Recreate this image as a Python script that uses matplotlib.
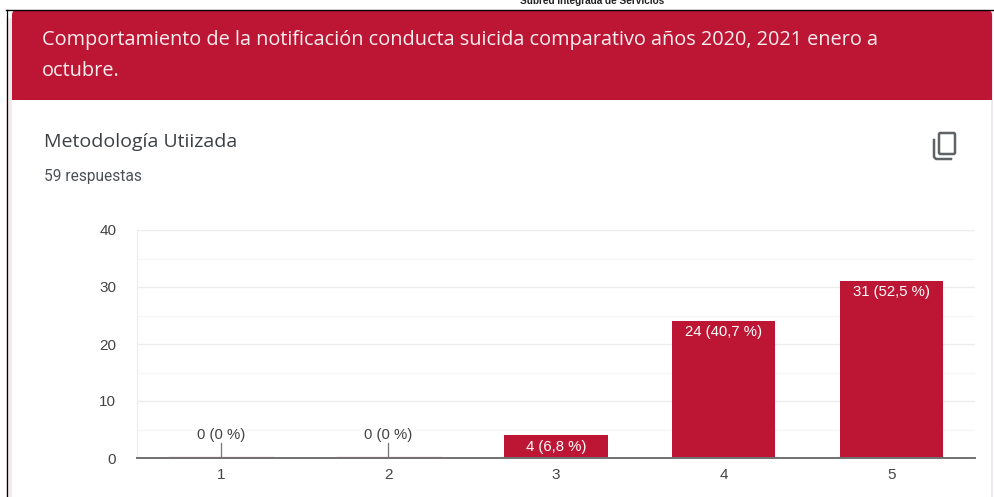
#!/usr/bin/env python3
import matplotlib
matplotlib.use('Agg')
import matplotlib.pyplot as plt
from matplotlib.patches import Rectangle, FancyBboxPatch

# datos
categorias = ['1', '2', '3', '4', '5']
valores = [0, 0, 4, 24, 31]
etiquetas = ['0 (0 %)', '0 (0 %)', '4 (6,8 %)', '24 (40,7 %)', '31 (52,5 %)']
ticks_y = [0, 10, 20, 30, 40]
ticks_menores = [5, 15, 25, 35]

titulo = ['Comportamiento de la notificación conducta suicida comparativo años 2020, 2021 enero a',
          'octubre.']
pregunta = 'Metodología Utiizada'
respuestas = '59 respuestas'
encabezado = 'Subred Integrada de Servicios'

ROJO = '#bd1634'
W, H = 994, 497

fig = plt.figure(figsize=(W / 100, H / 100), dpi=100)
fig.patch.set_facecolor('white')

# capa de fondo en pixeles (y hacia abajo)
bg = fig.add_axes([0, 0, 1, 1])
bg.set_xlim(0, W)
bg.set_ylim(H, 0)
bg.axis('off')

bg.add_patch(Rectangle((6, 10), 987, 487, fc='#f3e9ec', ec='none'))
bg.add_patch(Rectangle((12, 90), 979, 407, fc='white', ec='none'))
# cabecera con esquinas superiores redondeadas
bg.add_patch(Rectangle((6, 10), 8, 8, fc='white', ec='none'))
bg.add_patch(FancyBboxPatch((12, 10), 980, 40, boxstyle='round,pad=0,rounding_size=5', fc=ROJO, ec='none'))
bg.add_patch(Rectangle((12, 20), 980, 80, fc=ROJO, ec='none'))
bg.plot([6, 994], [9.5, 9.5], color='black', lw=1)
bg.plot([6.5, 6.5], [9.5, 497], color='black', lw=0.9)

bg.text(592, 1.5, encabezado, fontsize=7.2, fontweight='bold', family='Liberation Sans',
        ha='center', va='center', color='#222222')

bg.text(42, 40.5, titulo[0], fontsize=14.35, family='Open Sans', color='#fbeef0', va='center')
bg.text(42, 71.5, titulo[1], fontsize=14.35, family='Open Sans', color='#fbeef0', va='center')
bg.text(44, 142, pregunta, fontsize=14, family='Open Sans', color='#3c4043', va='center')
bg.text(44, 177, respuestas, fontsize=11.2, family='Roboto', color='#4d5156', va='center')

# icono de copiar
bg.add_patch(FancyBboxPatch((939, 133), 16, 21, boxstyle='round,pad=0,rounding_size=1.5',
                            fc='none', ec='#5f6368', lw=1.8))
bg.plot([934, 934, 936, 951], [140, 157, 159, 159], color='#5f6368', lw=1.8)

# grafico de barras
ax = fig.add_axes([137 / W, 1 - 458 / H, (975 - 137) / W, (458 - 230) / H])
ax.patch.set_alpha(0)
x = list(range(1, len(valores) + 1))
ax.bar(x, valores, width=0.615, color=ROJO, zorder=3)
ax.set_xlim(0.5, 5.5)
ax.set_ylim(0, 40)
ax.set_xticks(x, categorias)
ax.set_yticks(ticks_y)
ax.set_yticks(ticks_menores, minor=True)
ax.tick_params(axis='both', which='both', length=0)
ax.tick_params(axis='both', labelsize=11, labelcolor='#444444')
ax.tick_params(axis='x', pad=7)
ax.tick_params(axis='y', pad=15)
for lab in ax.get_xticklabels() + ax.get_yticklabels():
    lab.set_family('Liberation Sans')
ax.grid(True, axis='y', which='major', color='#ececec', lw=1, zorder=0)
ax.grid(True, axis='y', which='minor', color='#f6f6f6', lw=1, zorder=0)
for s in ['top', 'right']:
    ax.spines[s].set_visible(False)
ax.spines['left'].set_color('#ececec')
ax.spines['bottom'].set_color('#707070')
ax.spines['bottom'].set_linewidth(1.4)
ax.spines['bottom'].set_zorder(4)

for xi, v, et in zip(x, valores, etiquetas):
    if v == 0:
        # barra vacia: raya fina y etiqueta con guia
        ax.plot([xi - 0.3075, xi + 0.3075], [0.12, 0.12], color='#e3a9b4', lw=1, zorder=3)
        ax.plot([xi, xi], [0, 2.7], color='#777777', lw=0.9, zorder=3)
        ax.text(xi, 4.1, et, ha='center', va='center', fontsize=10.7, family='Liberation Sans', color='#444444')
    else:
        ax.text(xi, v - 1.9 if v > 4 else v / 2 - 0.1, et, ha='center', va='center', fontsize=10.7,
                family='Liberation Sans', color='white', zorder=5)

fig.savefig('out.png', dpi=100)
